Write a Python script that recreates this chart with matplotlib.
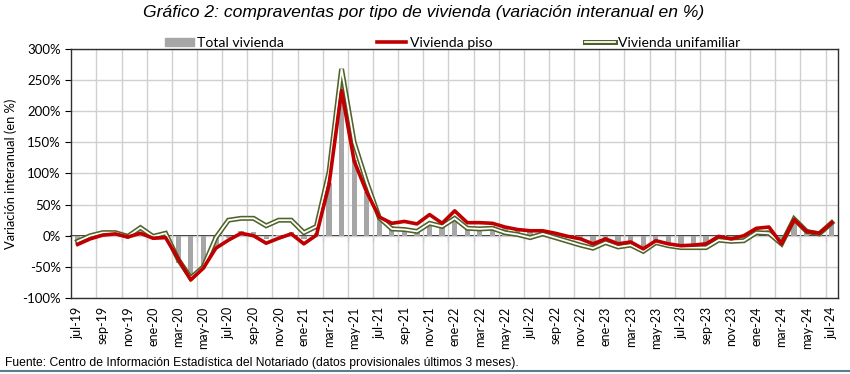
import numpy as np
import matplotlib.pyplot as plt
from matplotlib.lines import Line2D
from matplotlib.patches import Patch
from matplotlib.legend_handler import HandlerTuple

# meses jul-19 .. jul-24
mes = ['ene', 'feb', 'mar', 'abr', 'may', 'jun', 'jul', 'ago', 'sep', 'oct', 'nov', 'dic']
labels = []
for k in range(61):
    m = (6 + k) % 12
    y = 19 + (6 + k) // 12
    labels.append(f'{mes[m]}-{y}')

total = [-10, -3, 2, 3, -3, 5, -3, -2, -43, -65, -50, -18, -3, 8, 6, -6, 2, 6, -5, 5,
         85, 240, 122, 70, 28, 16, 12, 10, 22, 18, 30, 15, 14, 15, 12, 8, 6, 7, 2, -3,
         -5, -15, -8, -14, -11, -19, -10, -15, -17, -17, -15, -3, -6, -2, 9, 10, -13, 26, 6, 3, 20]
piso = [-14, -5, 1, 3, -2, 4, -4, -3, -37, -71, -52, -20, -7, 4, 0, -12, -4, 3, -13, 1,
        82, 233, 120, 70, 30, 20, 23, 19, 34, 20, 40, 21, 21, 20, 14, 10, 8, 8, 4, -1,
        -5, -13, -5, -13, -10, -21, -8, -13, -16, -15, -13, -1, -5, 0, 12, 14, -13, 26, 7, 4, 21]
unifam = [-9, 0, 5, 5, -1, 13, -1, 4, -38, -68, -50, -3, 25, 28, 28, 16, 25, 25, 5, 15,
          102, 268, 150, 86, 29, 11, 10, 7, 20, 15, 28, 12, 11, 12, 5, 2, -3, 3, -3, -9,
          -15, -20, -11, -18, -15, -25, -11, -16, -19, -19, -19, -7, -9, -8, 5, 4, -13, 27, 7, 3, 21]

x = np.arange(len(labels))

plt.rcParams['font.family'] = ['Lato', 'DejaVu Sans']
fig = plt.figure(figsize=(8.5, 3.74), dpi=100)
ax = fig.add_axes([0.0839, 0.2032, 0.9021, 0.6658])

ax.bar(x, total, width=0.42, color='#A6A6A6', zorder=2)
ax.plot(x, unifam, color='#4F6228', lw=3.6, zorder=3, solid_joinstyle='miter')
ax.plot(x, unifam, color='white', lw=1.3, zorder=3.5, solid_joinstyle='miter')
ax.plot(x, piso, color='#C00000', lw=2.6, zorder=4)

ax.set_xlim(-0.5, 60.5)
ax.set_ylim(-100, 300)
ax.set_yticks(np.arange(-100, 301, 50))
ax.set_yticklabels([f'{v}%' for v in range(-100, 301, 50)], fontsize=9.5)
ax.set_xticks(x[::2])
ax.set_xticklabels(labels[::2], rotation=90, fontsize=9)
ax.tick_params(axis='x', length=0, pad=6)
ax.tick_params(axis='y', length=4, direction='out')
ax.set_xticks(np.arange(1.5, 60, 2), minor=True)
ax.tick_params(axis='x', which='minor', length=0)
ax.grid(True, axis='x', which='minor', color='#D0D0D0', lw=1)
ax.grid(True, axis='y', which='major', color='#D0D0D0', lw=1)
ax.set_axisbelow(True)
for s in ax.spines.values():
    s.set_color('#303030')
    s.set_linewidth(1)

# linea de cero con marcas
sec = ax.secondary_xaxis(0.25)
sec.set_xticks(np.arange(1.5, 60, 2))
sec.set_xticklabels([])
sec.tick_params(axis='x', length=4, direction='out', color='black')
sec.spines['bottom'].set_color('black')
sec.spines['bottom'].set_linewidth(1.2)

ax.set_ylabel('Variación interanual (en %)', fontsize=9.3, labelpad=4)

h_bar = Patch(color='#A6A6A6')
h_piso = Line2D([], [], color='#C00000', lw=2.6)
h_uni = (Line2D([], [], color='#4F6228', lw=3.6), Line2D([], [], color='white', lw=1.3))
ax.legend([h_bar, h_piso, h_uni], ['Total vivienda', 'Vivienda piso', 'Vivienda unifamiliar'],
          handler_map={tuple: HandlerTuple(ndivide=1)}, ncol=3, loc='center',
          bbox_to_anchor=(0.497, 1.025), frameon=False, fontsize=10.1,
          handlelength=2.1, handletextpad=0.25, columnspacing=6.6,
          handleheight=0.5)

fig.text(0.498, 0.967, 'Gráfico 2: compraventas por tipo de vivienda (variación interanual en %)',
         ha='center', va='center', fontsize=12.6, style='italic', family='Liberation Sans')
fig.text(0.006, 0.03, 'Fuente: Centro de Información Estadística del Notariado (datos provisionales últimos 3 meses).',
         ha='left', va='center', fontsize=8.7, family='Liberation Sans')
fig.add_artist(Line2D([0, 1], [0.008, 0.008], color='#5B7C8D', lw=1.5))

fig.savefig('out.png', dpi=100)
